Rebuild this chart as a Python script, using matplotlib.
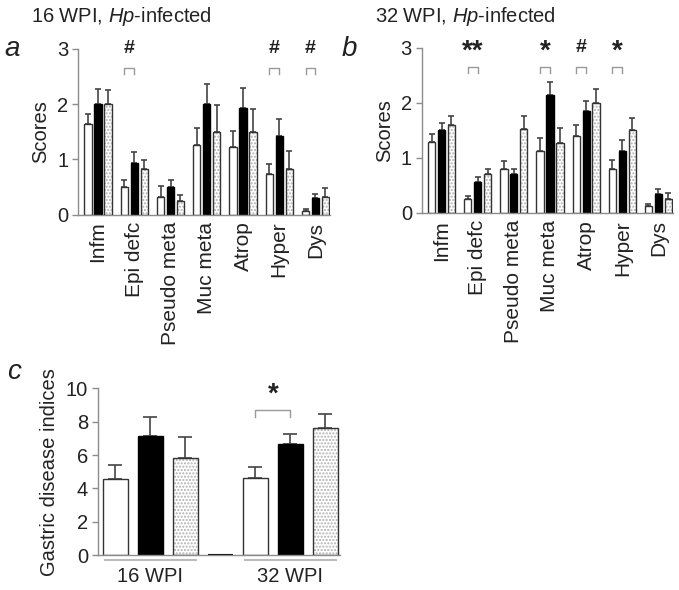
import numpy as np
import matplotlib
matplotlib.use('Agg')
import matplotlib.pyplot as plt

plt.rcParams['font.family'] = ['Liberation Sans', 'DejaVu Sans']
plt.rcParams['mathtext.fontset'] = 'custom'
plt.rcParams['mathtext.rm'] = 'Liberation Sans'
plt.rcParams['mathtext.it'] = 'Liberation Sans:italic'

categories = ['Infm', 'Epi defc', 'Pseudo meta', 'Muc meta', 'Atrop', 'Hyper', 'Dys']

# 16 WPI scores (white, black, dotted) and top of error bars
a_white = [1.65, 0.50, 0.33, 1.27, 1.23, 0.73, 0.06]
a_white_top = [1.83, 0.62, 0.52, 1.57, 1.51, 0.92, 0.10]
a_black = [2.00, 0.93, 0.50, 2.00, 1.93, 1.43, 0.30]
a_black_top = [2.27, 1.13, 0.62, 2.37, 2.30, 1.73, 0.38]
a_dot = [2.00, 0.83, 0.25, 1.50, 1.50, 0.83, 0.33]
a_dot_top = [2.26, 0.99, 0.35, 1.98, 1.92, 1.16, 0.49]

# 32 WPI scores
b_white = [1.29, 0.25, 0.79, 1.13, 1.39, 0.79, 0.12]
b_white_top = [1.43, 0.30, 0.95, 1.37, 1.60, 0.97, 0.17]
b_black = [1.51, 0.56, 0.71, 2.15, 1.85, 1.13, 0.34]
b_black_top = [1.63, 0.65, 0.80, 2.37, 2.04, 1.33, 0.43]
b_dot = [1.60, 0.70, 1.53, 1.27, 2.00, 1.50, 0.26]
b_dot_top = [1.77, 0.80, 1.76, 1.55, 2.25, 1.73, 0.36]

# significance marks: (category index, label)
sig_a = [(1, '#'), (5, '#'), (6, '#')]
sig_b = [(1, '**'), (3, '*'), (4, '#'), (5, '*')]

# gastric disease indices
groups_c = ['16 WPI', '32 WPI']
c_white = [4.55, 4.60]
c_white_top = [5.40, 5.30]
c_black = [7.15, 6.65]
c_black_top = [8.30, 7.25]
c_dot = [5.80, 7.60]
c_dot_top = [7.10, 8.45]

EDGE = '#333333'
SPINE = '#8c8c8c'
TXT = '#222222'
FS = 14.5


def style_axis(ax):
    for s in ['top', 'right']:
        ax.spines[s].set_visible(False)
    for s in ['left', 'bottom']:
        ax.spines[s].set_color(SPINE)
        ax.spines[s].set_linewidth(1.0)
    ax.tick_params(axis='y', colors=SPINE, labelcolor=TXT, labelsize=FS,
                   length=4, width=1, direction='out', pad=3)


def draw_bars(ax, x, vals, tops, kind, width, capsize):
    vals = np.asarray(vals)
    err = np.asarray(tops) - vals
    if kind == 'white':
        ax.bar(x, vals, width, color='white', edgecolor=EDGE, linewidth=1.0, zorder=2)
    elif kind == 'black':
        ax.bar(x, vals, width, color='black', edgecolor='black', linewidth=1.0, zorder=2)
    else:
        ax.bar(x, vals, width, color='white', edgecolor='#b0b0b0', hatch='.....',
               linewidth=0, zorder=2)
        ax.bar(x, vals, width, fill=False, edgecolor=EDGE, linewidth=1.0, zorder=3)
    ax.errorbar(x, vals, yerr=[np.zeros_like(err), err], fmt='none',
                ecolor='#444444', elinewidth=1.2, capsize=capsize, capthick=1.2, zorder=1)


def score_panel(ax, white, white_top, black, black_top, dot, dot_top, sigs):
    x = np.arange(len(categories))
    step = 0.275
    w = 0.2
    draw_bars(ax, x - step, white, white_top, 'white', w, 2.5)
    draw_bars(ax, x, black, black_top, 'black', w, 2.5)
    draw_bars(ax, x + step, dot, dot_top, 'dot', w, 2.5)
    for i, lab in sigs:
        bx = [i - step, i - step, i, i]
        by = [2.54, 2.66, 2.66, 2.54]
        ax.plot(bx, by, color='#999999', lw=1.0, clip_on=False)
        if '*' in lab:
            ax.text(i - step / 2, 2.93, lab, ha='center', va='center',
                    fontsize=20, fontweight='bold', color=TXT)
        else:
            ax.text(i - step / 2, 3.0, lab, ha='center', va='center',
                    fontsize=14, fontweight='bold', color=TXT)
    ax.set_xlim(-0.55, 6.4)
    ax.set_ylim(0, 3)
    ax.set_yticks([0, 1, 2, 3])
    ax.set_xticks(x)
    ax.set_xticklabels(categories, rotation=90, fontsize=15, color=TXT)
    ax.tick_params(axis='x', length=0, pad=5)
    ax.set_ylabel('Scores', fontsize=FS, color=TXT, labelpad=5)
    style_axis(ax)


fig = plt.figure(figsize=(6.79, 5.9), dpi=100)

ax_a = fig.add_axes([0.115, 0.636, 0.371, 0.281])
score_panel(ax_a, a_white, a_white_top, a_black, a_black_top, a_dot, a_dot_top, sig_a)
ax_b = fig.add_axes([0.621, 0.639, 0.370, 0.280])
score_panel(ax_b, b_white, b_white_top, b_black, b_black_top, b_dot, b_dot_top, sig_b)

fig.text(0.046, 0.972, '16 WPI, $\\mathit{Hp}$-infected', fontsize=FS, color=TXT,
         ha='left', va='center')
fig.text(0.553, 0.972, '32 WPI, $\\mathit{Hp}$-infected', fontsize=FS, color=TXT,
         ha='left', va='center')
fig.text(0.006, 0.917, 'a', fontsize=20, style='italic', color=TXT, va='center')
fig.text(0.503, 0.917, 'b', fontsize=20, style='italic', color=TXT, va='center')
fig.text(0.010, 0.370, 'c', fontsize=20, style='italic', color=TXT, va='center')

# panel c
ax_c = fig.add_axes([0.144, 0.059, 0.356, 0.283])
gpos = np.array([0, 4])
wc = 0.7
draw_bars(ax_c, gpos, c_white, c_white_top, 'white', wc, 5)
draw_bars(ax_c, gpos + 1, c_black, c_black_top, 'black', wc, 5)
draw_bars(ax_c, gpos + 2, c_dot, c_dot_top, 'dot', wc, 5)
ax_c.bar([3], [0], wc, color='black', edgecolor='black', linewidth=1.5, zorder=2)
ax_c.plot([4, 4, 5, 5], [8.25, 8.7, 8.7, 8.25], color='#999999', lw=1.0)
ax_c.text(4.5, 9.6, '*', ha='center', va='center', fontsize=20, fontweight='bold',
          color=TXT)
for g, lab in zip(gpos, groups_c):
    ax_c.plot([g - 0.3, g + 2.3], [-0.3, -0.3], color='#bbbbbb', lw=1.5, clip_on=False)
    ax_c.text(g + 1, -0.7, lab, ha='center', va='top', fontsize=FS, color=TXT)
ax_c.set_xlim(-0.5, 6.4)
ax_c.set_ylim(0, 10)
ax_c.set_yticks([0, 2, 4, 6, 8, 10])
ax_c.set_xticks([])
ax_c.set_ylabel('Gastric disease indices', fontsize=FS, color=TXT, labelpad=5)
style_axis(ax_c)

fig.savefig('out.png', dpi=100)
